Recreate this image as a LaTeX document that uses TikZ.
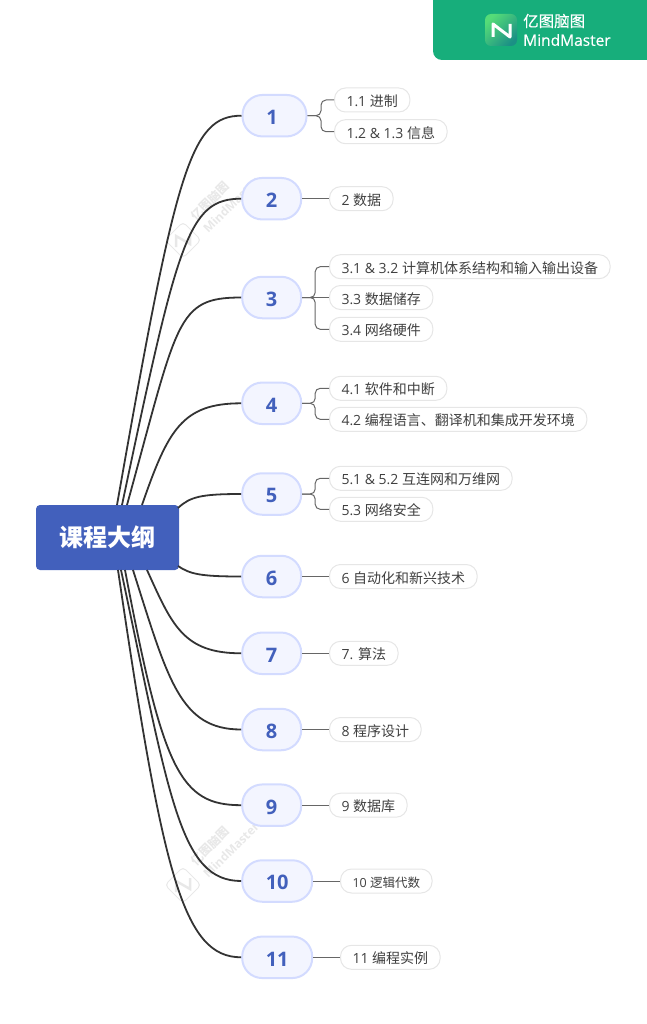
\documentclass[tikz,border=0pt]{standalone}
\usepackage{fontspec}
\setmainfont{Open Sans}
\newfontfamily\cjk{Noto Sans CJK SC}
\newfontfamily\brandlatin{Open Sans}[FakeBold=0.4]
\newfontfamily\brandcjk{Noto Sans CJK SC}[FakeBold=0.4]
\definecolor{badgegreen}{HTML}{17AE7B}
\definecolor{mainblue}{HTML}{4260BC}
\definecolor{topicfill}{HTML}{F3F5FF}
\definecolor{topicline}{HTML}{D3DBFF}
\definecolor{leafline}{HTML}{E6E6E6}
\definecolor{inktext}{HTML}{404040}
\definecolor{wmgray}{HTML}{E8E8E8}
\definecolor{logolight}{HTML}{55DC78}
\definecolor{logodark}{HTML}{1B9085}
\tikzset{
  maintopic/.style={fill=mainblue,text=white,rounded corners=4pt,minimum width=143pt,minimum height=65pt,inner sep=0pt,font=\cjk\bfseries\fontsize{24}{24}\selectfont},
  topic/.style={draw=topicline,line width=2pt,fill=topicfill,text=mainblue,rounded corners=20pt,minimum width=59pt,minimum height=41.5pt,inner sep=0pt,text height=17.7pt,text depth=0pt,font=\bfseries\fontsize{20}{20}\selectfont},
  widetopic/.style={topic,minimum width=70pt},
  leaf/.style={draw=leafline,line width=1pt,fill=white,text=inktext,rounded corners=11pt,anchor=west,minimum height=24pt,inner xsep=12pt,inner ysep=0pt,text height=14pt,text depth=1pt,font=\fontsize{14}{14}\selectfont},
  smallleaf/.style={leaf,font=\fontsize{12.5}{14}\selectfont},
  limb/.style={draw=black!80,line width=1.8pt},
  twig/.style={draw=black!60,line width=1pt,rounded corners=5pt},
  wmtext/.style={text=wmgray,rotate=45,inner sep=0pt,font=\bfseries\fontsize{12}{12}\selectfont},
  badgetext/.style={text=white,anchor=west,inner sep=0pt,font=\fontsize{15.5}{15}\selectfont}
}
\begin{document}
\begin{tikzpicture}[x=1pt,y=-1pt]
  \useasboundingbox (0,0) rectangle (646,1024);
  % watermarks
  \foreach \wy in {0,645} {
    \begin{scope}[shift={(0,\wy)}]
      \draw[wmgray,line width=1pt,rounded corners=4pt] (183,222) -- (201,240) -- (183,258) -- (165,240) -- cycle;
      \draw[wmgray,line width=2.5pt] (176,247) -- (176,236) -- (190,244) -- (190,233);
      \node[wmtext] (wma\wy) at (210,201) {\cjk 亿图脑图};
      \node[wmtext] (wmb\wy) at (231,205) {MindMaster};
    \end{scope}
  }
  % badge
  \fill[badgegreen,rounded corners=9pt] (433,-12) rectangle (658,60);
  \shade[rounded corners=6pt,top color=logolight,bottom color=logodark,shading angle=45] (485,14) rectangle (517,46);
  \draw[white,line width=3pt,line join=round] (493,37) -- (493,24) -- (510,37) -- (510,24);
  \node[badgetext] (brandcn) at (523,21) {\brandcjk 亿图脑图};
  \node[badgetext] (branden) at (523,40) {\brandlatin MindMaster};
  % topics and leaves
  \draw
    (107.5,537.5) node[maintopic] (main){课程大纲}
    (274.5,115.7) node[topic,minimum width=64pt] (n1){\kern-5pt 1}
    (271.7,198.7) node[topic] (n2){2}
    (271.7,297.5) node[topic] (n3){3}
    (271.7,403.3) node[topic] (n4){4}
    (271.7,494) node[topic] (n5){5}
    (271.7,576.5) node[topic] (n6){6}
    (271.7,653.3) node[topic] (n7){7}
    (271.7,729.5) node[topic] (n8){8}
    (271.7,805.2) node[topic] (n9){9}
    (277.2,881) node[widetopic] (n10){10}
    (277.2,957.3) node[widetopic] (n11){11}
    (334,100) node[leaf] (l11){1.1 {\cjk 进制}}
    (334,131.7) node[leaf] (l12){1.2 \& 1.3 {\cjk 信息}}
    (329,198.7) node[leaf] (l21){2 {\cjk 数据}}
    (329,266.7) node[leaf] (l31){3.1 \& 3.2 {\cjk 计算机体系结构和输入输出设备}}
    (329,297.5) node[leaf] (l32){3.3 {\cjk 数据储存}}
    (329,329.3) node[leaf] (l33){3.4 {\cjk 网络硬件}}
    (329,388.3) node[leaf] (l41){4.1 {\cjk 软件和中断}}
    (329,419.3) node[leaf] (l42){4.2 {\cjk 编程语言、翻译机和集成开发环境}}
    (329,478.3) node[leaf] (l51){5.1 \& 5.2 {\cjk 互连网和万维网}}
    (329,509.3) node[leaf] (l52){5.3 {\cjk 网络安全}}
    (329,576.5) node[leaf] (l61){6 {\cjk 自动化和新兴技术}}
    (329,653.3) node[leaf] (l71){7. {\cjk 算法}}
    (329,729.5) node[leaf] (l81){8 {\cjk 程序设计}}
    (329,805.2) node[leaf] (l91){9 {\cjk 数据库}}
    (340,881) node[smallleaf] (l101){10 {\cjk 逻辑代数}}
    (340,957.3) node[leaf] (l111){11 {\cjk 编程实例}};
  \coordinate (m1) at (117,505);
  \coordinate (m2) at (122,505);
  \coordinate (m3) at (127,505);
  \coordinate (m4) at (142,505);
  \coordinate (m5) at (178,508);
  \coordinate (m6) at (178,566);
  \coordinate (m7) at (147,570);
  \coordinate (m8) at (133,570);
  \coordinate (m9) at (125,570);
  \coordinate (m10) at (121,570);
  \coordinate (m11) at (118,570);
  \begin{scope}[limb]
    \draw (m1) .. controls (176,170) and (190,115.7) .. (n1.west);
    \draw (m2) .. controls (178,240) and (188,198.7) .. (n2.west);
    \draw (m3) .. controls (178,320) and (176,297.5) .. (n3.west);
    \draw (m4) .. controls (168,430) and (182,403.3) .. (n4.west);
    \draw (m5) .. controls (190,497) and (200,494) .. (n5.west);
    \draw (m6) .. controls (190,574) and (200,576.5) .. (n6.west);
    \draw (m7) .. controls (172,625) and (183,653.3) .. (n7.west);
    \draw (m8) .. controls (168,680) and (180,729.5) .. (n8.west);
    \draw (m9) .. controls (163,770) and (180,805.2) .. (n9.west);
    \draw (m10) .. controls (170,800) and (180,881) .. (n10.west);
    \draw (m11) .. controls (163,875) and (183,957.3) .. (n11.west);
  \end{scope}
  \begin{scope}[twig]
    \draw (n1.east) -- +(13.5,0) |- (l11.west);
    \draw (n1.east) -- +(13.5,0) |- (l12.west);
    \draw (n2.east) -- (l21.west);
    \draw (n3.east) -- +(13,0) |- (l31.west);
    \draw (n3.east) -- (l32.west);
    \draw (n3.east) -- +(13,0) |- (l33.west);
    \draw (n4.east) -- +(13,0) |- (l41.west);
    \draw (n4.east) -- +(13,0) |- (l42.west);
    \draw (n5.east) -- +(13,0) |- (l51.west);
    \draw (n5.east) -- +(13,0) |- (l52.west);
    \draw (n6.east) -- (l61.west);
    \draw (n7.east) -- (l71.west);
    \draw (n8.east) -- (l81.west);
    \draw (n9.east) -- (l91.west);
    \draw (n10.east) -- (l101.west);
    \draw (n11.east) -- (l111.west);
  \end{scope}
\end{tikzpicture}
\end{document}
